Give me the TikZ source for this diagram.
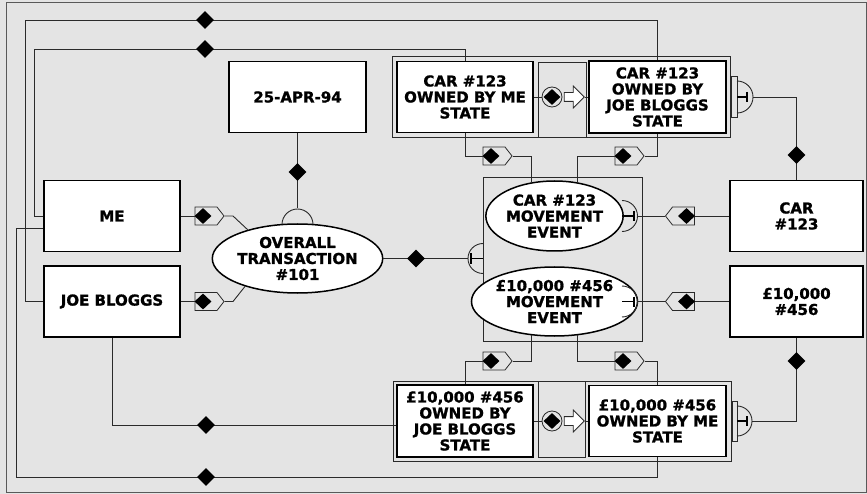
\documentclass[tikz,border=0pt]{standalone}
\usepackage{fontspec}
\setmainfont{DejaVu Sans}[BoldFeatures={FakeBold=1.2}]
\usetikzlibrary{shapes.geometric,shapes.symbols,shapes.arrows}
\definecolor{bgc}{HTML}{E4E4E4}
\definecolor{ln}{HTML}{2A2A2A}
\newcommand{\dtxt}{\fontsize{15}{16}\selectfont\bfseries}
\begin{document}
\begin{tikzpicture}[x=1pt,y=-1pt,
  conn/.style={draw=ln,line width=0.9pt},
  ent/.style={draw=black,line width=1.7pt,fill=white,inner sep=0pt,align=center,font=\dtxt},
  evt/.style={ellipse,draw=black,line width=1.5pt,fill=white,inner sep=0pt,align=center,font=\dtxt},
  dia/.style={diamond,fill=black,inner sep=0pt,minimum width=18pt,minimum height=18pt},
  sdia/.style={diamond,fill=black,inner sep=0pt,minimum width=17pt,minimum height=16pt},
  tagr/.style={signal,signal from=nowhere,signal to=east,signal pointer angle=104,draw=ln,line width=0.8pt,fill=bgc,inner sep=0pt,minimum width=29pt,minimum height=18pt},
  tagl/.style={tagr,signal to=west},
  frame/.style={draw=ln,line width=0.8pt},
  hollow/.style={single arrow,draw=ln,line width=0.8pt,fill=white,inner sep=0pt,inner ysep=4pt,minimum height=20pt,single arrow head extend=6.5pt},
  ring/.style={circle,draw=ln,line width=0.8pt,fill=bgc,inner sep=0pt,minimum size=20pt},
  tbar/.style={draw=black,line width=2.2pt},
  tstem/.style={draw=black,line width=1.4pt}
]
\useasboundingbox (0,0) rectangle (867,494);
\fill[bgc] (0,0) rectangle (867,494);
\draw[draw=gray!70!black,line width=1pt] (6,3) rectangle (866.5,492);

% group frames
\draw[frame] (392,56) rectangle (730,137);
\draw[frame] (538,62) rectangle (586,137);
\draw[frame] (393,381) rectangle (731,461);
\draw[frame] (538,381) rectangle (585,457);
\node[frame,fill=bgc,inner sep=0pt,minimum width=159pt,minimum height=164pt] (cont) at (562.5,259) {};
\draw[frame,fill=bgc] (731,76) rectangle (737,117);
\draw[frame,fill=bgc] (732,401) rectangle (737,441);

% entity boxes
\node[ent,minimum width=137pt,minimum height=71pt] (date) at (297.5,97) {25-APR-94};
\node[ent,minimum width=136pt,minimum height=71pt] (me) at (112,216) {ME};
\node[ent,minimum width=136pt,minimum height=71pt] (joe) at (112,301.5) {JOE BLOGGS};
\node[ent,minimum width=136pt,minimum height=71pt] (s1) at (465,97) {CAR \#123\\OWNED BY ME\\STATE};
\node[ent,minimum width=137pt,minimum height=72pt] (s2) at (657.5,97) {CAR \#123\\OWNED BY\\JOE BLOGGS\\STATE};
\node[ent,minimum width=136pt,minimum height=72pt] (s3) at (465,421) {£10,000 \#456\\OWNED BY\\JOE BLOGGS\\STATE};
\node[ent,minimum width=137pt,minimum height=71pt] (s4) at (657.5,421) {£10,000 \#456\\OWNED BY ME\\STATE};
\node[ent,minimum width=133pt,minimum height=71pt] (car) at (796.5,216) {CAR\\\#123};
\node[ent,minimum width=133pt,minimum height=71pt] (money) at (796.5,301.5) {£10,000\\\#456};

% events
\node[evt,minimum width=134pt,minimum height=69pt] (tx) at (297.5,258.5) {OVERALL\\TRANSACTION\\\#101};
\node[evt,minimum width=135pt,minimum height=70pt] (e1) at (554.5,216) {CAR \#123\\MOVEMENT\\EVENT};
\node[evt,minimum width=135pt,minimum height=69pt] (e2) at (554.5,301.5) {£10,000 \#456\\MOVEMENT\\EVENT};

% long loops
\coordinate (dl) at (0,425);
\draw[conn] (me.west) -- (34,216) -- (34,49) -| (s1.north);
\draw[conn] (joe.west) -- (25,301.5) -- (25,20) -| (s2.north);
\draw[conn] ([yshift=-12.5pt]me.west) -| (16,477) -| (s4.south);
\draw[conn] (joe.south) |- (s3.west |- dl);
\node[dia] at (205,20) {};
\node[dia] at (205,49) {};
\node[dia] at (206,477) {};
\node[dia] at (206,425) {};

% ME / JOE to transaction
\node[tagr] (tme) at (206,216) {};
\node[sdia] at ([xshift=-3pt]tme.center) {};
\draw[conn] (me.east) -- (tme.west);
\draw[conn] (tme.east) -- (233,216) -- (tx.150);
\node[tagr] (tjoe) at (206,301.5) {};
\node[sdia] at ([xshift=-3pt]tjoe.center) {};
\draw[conn] (joe.east) -- (tjoe.west);
\draw[conn] (tjoe.east) -- (233,301.5) -- (tx.208);

% date to transaction
\coordinate (txcap) at (297.5,208.5);
\draw[conn] (282,224.5) arc[start angle=180,end angle=0,radius=15.5pt];
\draw[conn] (date.south) -- (txcap);
\node[dia] at (297.5,172) {};

% transaction to container
\coordinate (ccap) at (468,258.5);
\draw[conn] (tx.east) -- (ccap);
\draw[conn] (483,243.5) arc[start angle=90,end angle=270,radius=15pt];
\draw[tstem] (471,258.5) -- (483,258.5);
\draw[tbar] (471,253) -- (471,264);
\node[dia] at (416,258.5) {};

% events to things
\coordinate (e1cap) at (637.5,216);
\draw[conn] (622,200.5) arc[start angle=90,end angle=-90,radius=15.5pt];
\draw[tstem] (622,216) -- (634,216);
\draw[tbar] (634,211) -- (634,221);
\node[tagl] (te1) at (683.5,216) {};
\node[sdia] at ([xshift=3pt]te1.center) {};
\draw[conn] (e1cap) -- (te1.west);
\draw[conn] (te1.east) -- (car.west);

\coordinate (e2cap) at (637.5,301.5);
\draw[conn] (622,286) arc[start angle=90,end angle=-90,radius=15.5pt];
\draw[tstem] (622,301.5) -- (634,301.5);
\draw[tbar] (634,296.5) -- (634,306.5);
\node[tagl] (te2) at (683.5,301.5) {};
\node[sdia] at ([xshift=3pt]te2.center) {};
\draw[conn] (e2cap) -- (te2.west);
\draw[conn] (te2.east) -- (money.west);

% states to events
\node[tagr] (t1) at (494,156) {};
\node[sdia] at ([xshift=-3pt]t1.center) {};
\draw[conn] (s1.south) |- (t1.west);
\draw[conn] (t1.east) -| (e1.124);
\node[tagr] (t2) at (626,156) {};
\node[sdia] at ([xshift=-3pt]t2.center) {};
\draw[conn] (s2.south) |- (t2.east);
\draw[conn] (t2.west) -| (e1.56);
\node[tagr] (t3) at (494,361) {};
\node[sdia] at ([xshift=-3pt]t3.center) {};
\draw[conn] (s3.north) |- (t3.west);
\draw[conn] (t3.east) -| (e2.236);
\node[tagr] (t4) at (626,361) {};
\node[sdia] at ([xshift=-3pt]t4.center) {};
\draw[conn] (s4.north) |- (t4.east);
\draw[conn] (t4.west) -| (e2.304);

% transitions
\node[ring] (c1) at (552,97) {};
\node[sdia] at (c1) {};
\node[hollow] (a1) at (572,97) {};
\draw[conn] (s1.east) -- (c1.west);
\draw[conn] (a1.tip) -- (s2.west);
\node[ring] (c2) at (552,421) {};
\node[sdia] at (c2) {};
\node[hollow] (a2) at (572,421) {};
\draw[conn] (s3.east) -- (c2.west);
\draw[conn] (a2.tip) -- (s4.west);

% states to things (right)
\coordinate (s2cap) at (753,97);
\draw[conn] (737,81) arc[start angle=90,end angle=-90,radius=16pt];
\draw[tstem] (737,97) -- (747,97);
\draw[tbar] (747,92) -- (747,102);
\draw[conn] (s2cap) -| (car.north);
\node[dia] at (796.5,155) {};

\coordinate (s4cap) at (752,421);
\draw[conn] (737,406) arc[start angle=90,end angle=-90,radius=15pt];
\draw[tstem] (737,421) -- (747,421);
\draw[tbar] (747,416) -- (747,426);
\draw[conn] (s4cap) -| (money.south);
\node[dia] at (796.5,361) {};
\end{tikzpicture}
\end{document}
